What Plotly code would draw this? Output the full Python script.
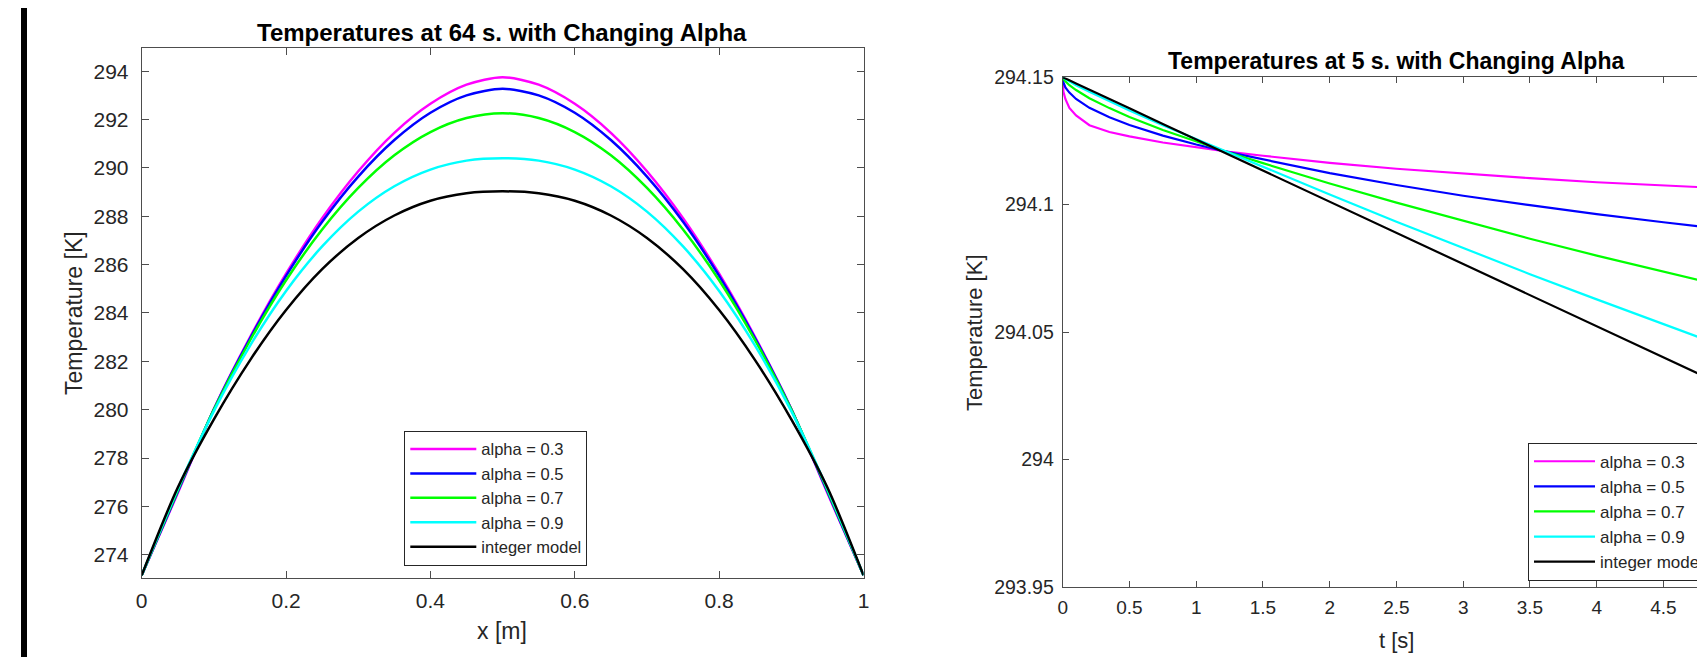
import plotly.graph_objects as go

# ---------------- data: left panel (temperature profile at 64 s) ----------------
x_pos = [0.00, 0.05, 0.10, 0.15, 0.20, 0.25, 0.30, 0.35, 0.40, 0.45, 0.50,
         0.55, 0.60, 0.65, 0.70, 0.75, 0.80, 0.85, 0.90, 0.95, 1.00]
T64_a03 = [273.15, 276.55, 280.03, 282.99, 285.62, 287.92, 289.86, 291.45, 292.65, 293.44, 293.75,
           293.44, 292.65, 291.45, 289.86, 287.92, 285.62, 282.99, 280.03, 276.55, 273.15]
T64_a05 = [273.15, 276.60, 280.02, 282.94, 285.53, 287.77, 289.64, 291.15, 292.28, 293.00, 293.27,
           293.00, 292.28, 291.15, 289.64, 287.77, 285.53, 282.94, 280.02, 276.60, 273.15]
T64_a07 = [273.15, 276.66, 280.00, 282.86, 285.35, 287.45, 289.17, 290.52, 291.48, 292.06, 292.26,
           292.06, 291.48, 290.52, 289.17, 287.45, 285.35, 282.86, 280.00, 276.66, 273.15]
T64_a09 = [273.15, 276.72, 279.94, 282.64, 284.91, 286.75, 288.19, 289.24, 289.93, 290.30, 290.40,
           290.30, 289.93, 289.24, 288.19, 286.75, 284.91, 282.64, 279.94, 276.72, 273.15]
T64_int = [273.15, 276.78, 279.60, 282.04, 284.12, 285.81, 287.10, 288.03, 288.64, 288.95, 289.03,
           288.95, 288.64, 288.03, 287.10, 285.81, 284.12, 282.04, 279.60, 276.78, 273.15]

# ---------------- data: right panel (temperature vs time, first 5 s) ----------------
t_sec = [0.0, 0.005, 0.02, 0.05, 0.1, 0.2, 0.35, 0.5, 0.75, 1.0, 1.25, 1.5,
         2.0, 2.5, 3.0, 3.5, 4.0, 4.5, 5.0]
Tt_a03 = [294.1500, 294.1444, 294.1415, 294.1380, 294.1350, 294.1312, 294.1285, 294.1268, 294.1244,
          294.1226, 294.1207, 294.1192, 294.1164, 294.1141, 294.1122, 294.1104, 294.1088, 294.1076, 294.1063]
Tt_a05 = [294.1500, 294.1481, 294.1460, 294.1440, 294.1415, 294.1380, 294.1343, 294.1313, 294.1271,
          294.1236, 294.1205, 294.1177, 294.1124, 294.1077, 294.1035, 294.0998, 294.0963, 294.0931, 294.0900]
Tt_a07 = [294.1500, 294.1494, 294.1484, 294.1469, 294.1450, 294.1418, 294.1379, 294.1344, 294.1293,
          294.1247, 294.1204, 294.1163, 294.1083, 294.1008, 294.0936, 294.0866, 294.0800, 294.0738, 294.0675]
Tt_a09 = [294.1500, 294.1498, 294.1493, 294.1484, 294.1469, 294.1443, 294.1405, 294.1370, 294.1312,
          294.1257, 294.1203, 294.1148, 294.1040, 294.0933, 294.0830, 294.0727, 294.0628, 294.0530, 294.0434]
Tt_int = [294.1500, 294.1499, 294.1495, 294.1488, 294.1476, 294.1451, 294.1414, 294.1378, 294.1317,
          294.1256, 294.1194, 294.1133, 294.1011, 294.0889, 294.0767, 294.0644, 294.0522, 294.0400, 294.0278]

series_names = ["alpha = 0.3", "alpha = 0.5", "alpha = 0.7", "alpha = 0.9", "integer model"]
series_colors = ["#FF00FF", "#0000FF", "#00FF00", "#00FFFF", "#000000"]

left_x_ticks = [0, 0.2, 0.4, 0.6, 0.8, 1]
left_x_text = ["0", "0.2", "0.4", "0.6", "0.8", "1"]
left_y_ticks = [274, 276, 278, 280, 282, 284, 286, 288, 290, 292, 294]
left_y_text = [str(v) for v in left_y_ticks]
right_x_ticks = [0, 0.5, 1, 1.5, 2, 2.5, 3, 3.5, 4, 4.5, 5]
right_x_text = ["0", "0.5", "1", "1.5", "2", "2.5", "3", "3.5", "4", "4.5", "5"]
right_y_ticks = [293.95, 294.0, 294.05, 294.1, 294.15]
right_y_text = ["293.95", "294", "294.05", "294.1", "294.15"]

W, H = 1705, 657
OFF = 8  # page body margin: figure starts 8px right/down of the window corner
FONT = "Arial, 'Liberation Sans', Helvetica, sans-serif"
TXT = "#262626"
AX = "#4d4d4d"

fig = go.Figure()
left_series = [T64_a03, T64_a05, T64_a07, T64_a09, T64_int]
right_series = [Tt_a03, Tt_a05, Tt_a07, Tt_a09, Tt_int]
for name, col, ys in zip(series_names, series_colors, left_series):
    fig.add_trace(go.Scatter(x=x_pos, y=ys, mode="lines", name=name,
                             line=dict(color=col, width=2.5, shape="spline", smoothing=0.8),
                             xaxis="x", yaxis="y", legend="legend"))
for name, col, ys in zip(series_names, series_colors, right_series):
    fig.add_trace(go.Scatter(x=t_sec, y=ys, mode="lines", name=name,
                             line=dict(color=col, width=2.2),
                             xaxis="x2", yaxis="y2", legend="legend2"))

def px_x(p):
    return (p - OFF) / W

def px_y(p):
    return 1 - (p - OFF) / H

axis_common = dict(showgrid=False, zeroline=False, showline=True, linecolor=AX, linewidth=1,
                   ticks="inside", tickcolor=AX, tickwidth=1)

fig.update_layout(
    width=W, height=H,
    margin=dict(l=0, r=0, t=0, b=0, autoexpand=False),
    paper_bgcolor="white", plot_bgcolor="white",
    font=dict(family=FONT, color=TXT),
    xaxis=dict(domain=[px_x(141.7), px_x(863.5)], range=[0, 1], anchor="y",
               tickvals=left_x_ticks, ticktext=left_x_text, ticklen=7, mirror="ticks",
               tickfont=dict(size=21, color=TXT, family=FONT), ticklabelstandoff=4, **axis_common),
    yaxis=dict(domain=[px_y(577.7), px_y(47.7)], range=[273.05, 294.97], anchor="x",
               tickvals=left_y_ticks, ticktext=left_y_text, ticklen=7, mirror="ticks",
               tickfont=dict(size=21, color=TXT, family=FONT), ticklabelstandoff=8, **axis_common),
    xaxis2=dict(domain=[px_x(1062.7), 1.0], range=[0, (W + OFF - 1062.7) / 133.5], anchor="y2",
                tickvals=right_x_ticks, ticktext=right_x_text, ticklen=6, mirror="ticks",
                tickfont=dict(size=19, color=TXT, family=FONT), ticklabelstandoff=3, **axis_common),
    yaxis2=dict(domain=[px_y(586.7), px_y(77.3)], range=[293.95, 294.15], anchor="x2",
                tickvals=right_y_ticks, ticktext=right_y_text, ticklen=6, mirror=False,
                tickfont=dict(size=19.5, color=TXT, family=FONT), ticklabelstandoff=4, **axis_common),
    legend=dict(x=px_x(404.3), y=px_y(430.7), xanchor="left", yanchor="top",
                bgcolor="white", bordercolor="#262626", borderwidth=1,
                font=dict(size=16.5, color=TXT, family=FONT), itemwidth=66,
                tracegroupgap=0),
    legend2=dict(x=px_x(1528), y=px_y(442.7), xanchor="left", yanchor="top",
                 bgcolor="white", bordercolor="#262626", borderwidth=1,
                 font=dict(size=17, color=TXT, family=FONT), itemwidth=61,
                 tracegroupgap=0),
    showlegend=True,
)

annots = [
    dict(text="<b>Temperatures at 64 s. with Changing Alpha</b>", x=px_x(502), y=px_y(32),
         font=dict(size=24, color="#000000")),
    dict(text="x [m]", x=px_x(502), y=px_y(631), font=dict(size=23, color=TXT)),
    dict(text="Temperature [K]", x=px_x(74), y=px_y(313), textangle=-90, font=dict(size=23, color=TXT)),
    dict(text="<b>Temperatures at 5 s. with Changing Alpha</b>", x=px_x(1396), y=px_y(61),
         font=dict(size=23, color="#000000")),
    dict(text="t [s]", x=px_x(1396), y=px_y(640), font=dict(size=22, color=TXT)),
    dict(text="Temperature [K]", x=px_x(974), y=px_y(332), textangle=-90, font=dict(size=22, color=TXT)),
]
for a in annots:
    fig.add_annotation(xref="paper", yref="paper", xanchor="center", yanchor="middle",
                       showarrow=False, font_family=FONT, **a)

# thick black bar at the very left of the picture
fig.add_shape(type="rect", xref="paper", yref="paper", x0=px_x(21), x1=px_x(27), y0=0, y1=1,
              fillcolor="black", line=dict(width=0), layer="above")

fig.write_html("out.html")
